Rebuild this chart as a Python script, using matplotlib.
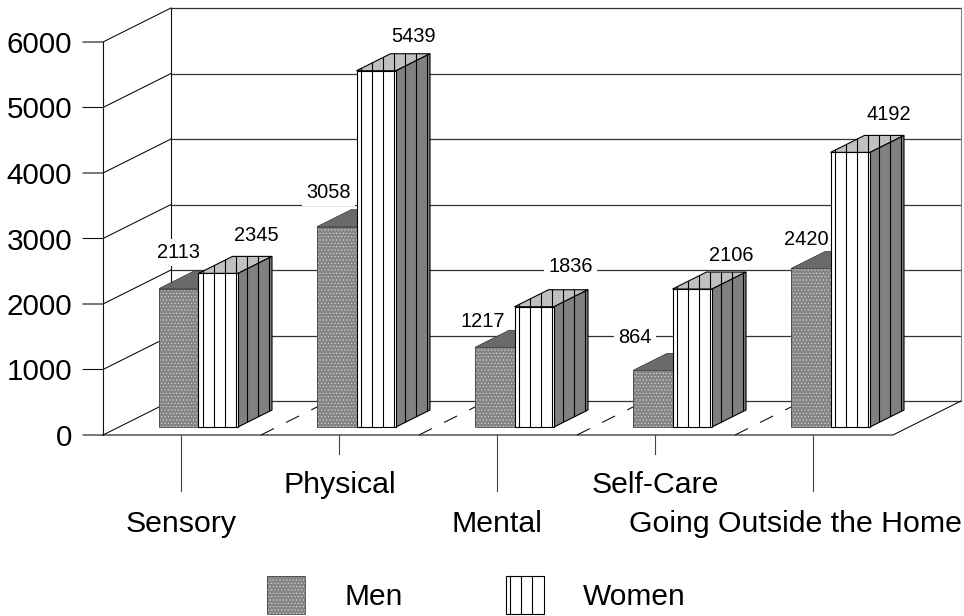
import matplotlib
matplotlib.use("Agg")
import matplotlib.pyplot as plt
from matplotlib.patches import Polygon, Rectangle
from matplotlib.lines import Line2D
from matplotlib.legend_handler import HandlerBase

plt.rcParams['font.family'] = ['Liberation Sans', 'DejaVu Sans']
plt.rcParams['lines.scale_dashes'] = False
plt.rcParams['hatch.linewidth'] = 0.4

# ---- data ----
categories = ["Sensory", "Physical", "Mental", "Self-Care", "Going Outside the Home"]
men = [2113, 3058, 1217, 864, 2420]
women = [2345, 5439, 1836, 2106, 4192]
y_ticks = [0, 1000, 2000, 3000, 4000, 5000, 6000]

# ---- label nudges (pixels) ----
men_label_off = [(0, 36), (-8, 34.5), (-12, 26), (-18, 33), (-4, 29)]
women_label_off = [(38, 38), (37, 34), (36, 40), (39, 34), (39, 38)]
cat_label_dx = [0, 1, 0, 0, -18]

# ---- scales: x unit = one category (158 px), y unit = chart value ----
W, H = 964, 616
PX_X = 1 / 158.0
PX_Y = 1 / 0.0655
X0_PX, Y0_PX = 181, 435
fig = plt.figure(figsize=(W / 100, H / 100), dpi=100)
ax = fig.add_axes([0, 0, 1, 1])
ax.set_xlim(-X0_PX * PX_X, (W - X0_PX) * PX_X)
ax.set_ylim(-(H - Y0_PX) * PX_Y, Y0_PX * PX_Y)
ax.axis('off')

LW = 0.8
WALL_DX, WALL_DY = 68 * PX_X, 34 * PX_Y
DEP_DX, DEP_DY = 34 * PX_X, 17 * PX_Y
BAR_W = 39.5 * PX_X
BAR_X0 = -22 * PX_X
BASE = 8 * PX_Y
AX_L = -78 * PX_X
AX_R = 712 * PX_X
TICK = 20 * PX_X
INK = '#111111'
MEN_FACE, MEN_DOT, MEN_TOP = '#858585', '#dcdcdc', '#6a6a6a'
WOM_TOP, WOM_SIDE = '#c0c0c0', '#808080'
STRIPE = 11 * PX_X
FS_TICK, FS_CAT, FS_VAL, FS_LEG = 21.3, 21.8, 14.4, 21.5

# walls and floor
for v in y_ticks:
    ax.plot([AX_L - TICK, AX_L, AX_L + WALL_DX], [v, v, v + WALL_DY], color=INK, lw=LW, zorder=1)
    ax.plot([AX_L + WALL_DX, AX_R + WALL_DX], [v + WALL_DY, v + WALL_DY],
            color='#333333', lw=LW + 0.1, zorder=1)
ax.plot([AX_L, AX_L], [0, y_ticks[-1]], color=INK, lw=LW, zorder=1)
ax.plot([AX_L + WALL_DX] * 2, [WALL_DY, y_ticks[-1] + WALL_DY], color=INK, lw=LW, zorder=1)
ax.plot([AX_R + WALL_DX] * 2, [WALL_DY, y_ticks[-1] + WALL_DY], color='#808080', lw=LW, zorder=1)
ax.plot([AX_L, AX_R, AX_R + WALL_DX], [0, 0, WALL_DY], color=INK, lw=LW, zorder=1)

# dashed floor dividers and category ticks
for i in range(len(categories)):
    if i:
        ax.plot([AX_L + i, AX_L + i + WALL_DX], [0, WALL_DY], color=INK, lw=LW,
                ls=(0, (10.4, 9.8)), zorder=1)
    tick_len = 56 if i % 2 == 0 else 19
    ax.plot([i, i], [0, -tick_len * PX_Y], color='#444444', lw=LW, zorder=1)
    ax.text(i + cat_label_dx[i] * PX_X, -(89 if i % 2 == 0 else 50) * PX_Y, categories[i],
            ha='center', va='center', fontsize=FS_CAT, color='black')

for v in y_ticks:
    ax.text(AX_L - 31 * PX_X, v - 3 * PX_Y, str(v), ha='right', va='center',
            fontsize=FS_TICK, color='black')


def stripes(xa, xb, clip, z):
    n = int((xb - xa) / STRIPE) + 1
    ylo, yhi = ax.get_ylim()
    for k in range(n + 1):
        x = xa + (k + 0.37) * STRIPE
        ln = ax.plot([x, x], [ylo, yhi], color='black', lw=LW, zorder=z)[0]
        ln.set_clip_path(clip)


for i, (m, w) in enumerate(zip(men, women)):
    x = i + BAR_X0
    # men: top then front
    ax.add_patch(Polygon([(x, BASE + m), (x + BAR_W, BASE + m),
                          (x + BAR_W + DEP_DX, BASE + m + DEP_DY), (x + DEP_DX, BASE + m + DEP_DY)],
                         fc=MEN_TOP, ec='#333333', lw=0.5, zorder=3 + i))
    ax.add_patch(Rectangle((x, BASE), BAR_W, m, fc=MEN_FACE, ec=MEN_DOT, lw=0,
                           hatch='.....', zorder=3 + i))
    ax.add_patch(Rectangle((x, BASE), BAR_W, m, fc='none', ec='#444444', lw=0.6, zorder=3 + i))
    # women: top, side, front
    xw = x + BAR_W
    top = Polygon([(xw, BASE + w), (xw + BAR_W, BASE + w),
                   (xw + BAR_W + DEP_DX, BASE + w + DEP_DY), (xw + DEP_DX, BASE + w + DEP_DY)],
                  fc=WOM_TOP, ec='black', lw=LW, zorder=3 + i + .1)
    side = Polygon([(xw + BAR_W, BASE), (xw + BAR_W + DEP_DX, BASE + DEP_DY),
                    (xw + BAR_W + DEP_DX, BASE + w + DEP_DY), (xw + BAR_W, BASE + w)],
                   fc=WOM_SIDE, ec='black', lw=LW, zorder=3 + i + .1)
    front = Rectangle((xw, BASE), BAR_W, w, fc='white', ec='black', lw=LW, zorder=3 + i + .1)
    for p in (top, side, front):
        ax.add_patch(p)
        stripes(xw, xw + BAR_W + DEP_DX, p, 3 + i + .2)
    # value labels
    for val, bx, off in ((m, x, men_label_off[i]), (w, xw, women_label_off[i])):
        ax.text(bx + BAR_W / 2 + off[0] * PX_X, BASE + val + off[1] * PX_Y, str(val),
                ha='center', va='center', fontsize=FS_VAL, color='black', zorder=2,
                bbox=dict(fc='white', ec='none', pad=3))


class SwatchHandler(HandlerBase):
    def create_artists(self, legend, orig, xd, yd, width, height, fontsize, trans):
        x0, y0 = -xd, -yd
        if orig.get_label() == 'Women':
            arts = [Rectangle((x0, y0), width, height, transform=trans, fc='white', ec='black', lw=LW)]
            for k in range(3):
                xx = x0 + (k + 0.37) * 11 * 0.72
                arts.append(Line2D([xx, xx], [y0, y0 + height], color='black', lw=LW, transform=trans))
        else:
            arts = [Rectangle((x0, y0), width, height, transform=trans, fc=MEN_FACE, ec=MEN_DOT,
                              lw=0, hatch='.....'),
                    Rectangle((x0, y0), width, height, transform=trans, fc='none', ec='#444444', lw=0.6)]
        return arts


men_h = Rectangle((0, 0), 1, 1, label='Men')
wom_h = Rectangle((0, 0), 1, 1, label='Women')
fig.legend(handles=[men_h, wom_h], labels=['Men', 'Women'],
           handler_map={Rectangle: SwatchHandler()}, ncol=2, frameon=False,
           loc='lower left', bbox_to_anchor=(267 / W, 2 / H), borderaxespad=0, borderpad=0,
           fontsize=FS_LEG, handlelength=1.27, handleheight=1.58, handletextpad=1.32,
           columnspacing=3.45)

fig.savefig('out.png', dpi=100)
